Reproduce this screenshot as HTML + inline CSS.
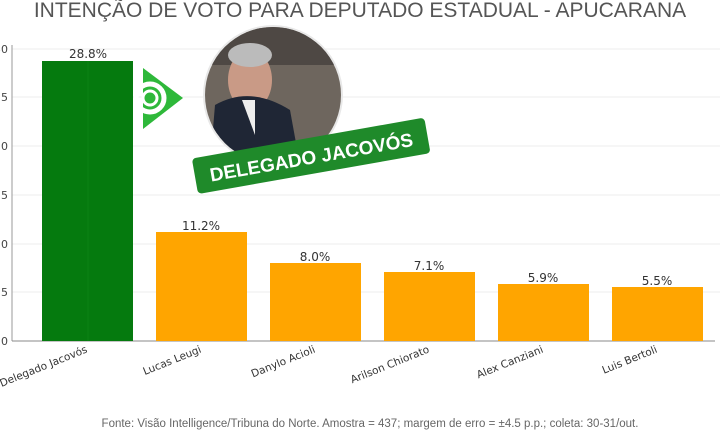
<!DOCTYPE html>
<html><head><meta charset="utf-8"><style>
body{margin:0;width:720px;height:430px;background:#fff;overflow:hidden;font-family:"Liberation Sans","DejaVu Sans",sans-serif}
</style></head><body>
<svg width="720" height="430" xmlns="http://www.w3.org/2000/svg" font-family="DejaVu Sans, Liberation Sans, sans-serif">
<text x="360" y="17" text-anchor="middle" font-size="21" fill="#555" font-family="Liberation Sans, sans-serif">INTENÇÃO DE VOTO PARA DEPUTADO ESTADUAL - APUCARANA</text>
<g stroke="#eee" stroke-width="1">
<line x1="12" y1="292" x2="720" y2="292"/><line x1="12" y1="244" x2="720" y2="244"/><line x1="12" y1="195" x2="720" y2="195"/><line x1="12" y1="146" x2="720" y2="146"/><line x1="12" y1="97" x2="720" y2="97"/><line x1="12" y1="49" x2="720" y2="49"/>
</g>
<line x1="12" y1="45" x2="12" y2="341" stroke="#999"/>
<line x1="12" y1="341" x2="715" y2="341" stroke="#888"/>
<g font-size="11" fill="#444" text-anchor="end">
<text x="8" y="345">0</text><text x="8" y="296">5</text><text x="8" y="248">10</text><text x="8" y="199">15</text><text x="8" y="150">20</text><text x="8" y="101">25</text><text x="8" y="53">30</text>
</g>
<rect x="42" y="61" width="91" height="280" fill="#057a0e"/>
<line x1="88" y1="61" x2="88" y2="341" stroke="#0a8214"/>
<g fill="#ffa500">
<rect x="156" y="232" width="91" height="109"/><rect x="270" y="263" width="91" height="78"/><rect x="384" y="272" width="91" height="69"/><rect x="498" y="284" width="91" height="57"/><rect x="612" y="287" width="91" height="54"/>
</g>
<g font-size="12" fill="#333" text-anchor="middle">
<text x="88" y="58">28.8%</text><text x="201" y="230">11.2%</text><text x="315" y="261">8.0%</text><text x="429" y="270">7.1%</text><text x="543" y="282">5.9%</text><text x="657" y="285">5.5%</text>
</g>
<g font-size="10.5" fill="#333" text-anchor="end">
<text transform="translate(88,352) rotate(-22)">Delegado Jacovós</text>
<text transform="translate(202,352) rotate(-22)">Lucas Leugi</text>
<text transform="translate(316,352) rotate(-22)">Danylo Acioli</text>
<text transform="translate(430,352) rotate(-22)">Arilson Chiorato</text>
<text transform="translate(544,352) rotate(-22)">Alex Canziani</text>
<text transform="translate(658,352) rotate(-22)">Luis Bertoli</text>
</g>
<polygon points="143,68 183,98 143,129" fill="#2eb83a"/>
<circle cx="150" cy="98" r="14" fill="none" stroke="#fff" stroke-width="5"/>
<circle cx="150" cy="98" r="7" fill="#2eb83a" stroke="#fff" stroke-width="3"/>
<circle cx="273" cy="95" r="70" fill="#e8e8e8"/>
<clipPath id="c"><circle cx="273" cy="95" r="68"/></clipPath>
<g clip-path="url(#c)">
<rect x="200" y="25" width="150" height="140" fill="#6e665e"/>
<rect x="200" y="25" width="150" height="40" fill="#4e4844"/>
<ellipse cx="250" cy="80" rx="22" ry="30" fill="#c99a86"/>
<ellipse cx="250" cy="55" rx="22" ry="12" fill="#bbb"/>
<path d="M210 165 L215 105 Q250 85 290 110 L300 165Z" fill="#1f2635"/>
<path d="M242 100 L255 100 L255 135 Z" fill="#eee"/>
</g>
<g transform="rotate(-10 310 155)">
<rect x="193" y="138" width="236" height="36" rx="4" fill="#1f8a2a"/>
<text x="311" y="164" text-anchor="middle" font-size="19" font-weight="bold" fill="#fff" font-family="Liberation Sans, sans-serif">DELEGADO JACOVÓS</text>
</g>
<text x="370" y="427" text-anchor="middle" font-size="11.5" fill="#666" font-family="Liberation Sans, sans-serif">Fonte: Visão Intelligence/Tribuna do Norte. Amostra = 437; margem de erro = ±4.5 p.p.; coleta: 30-31/out.</text>
</svg>
</body></html>
